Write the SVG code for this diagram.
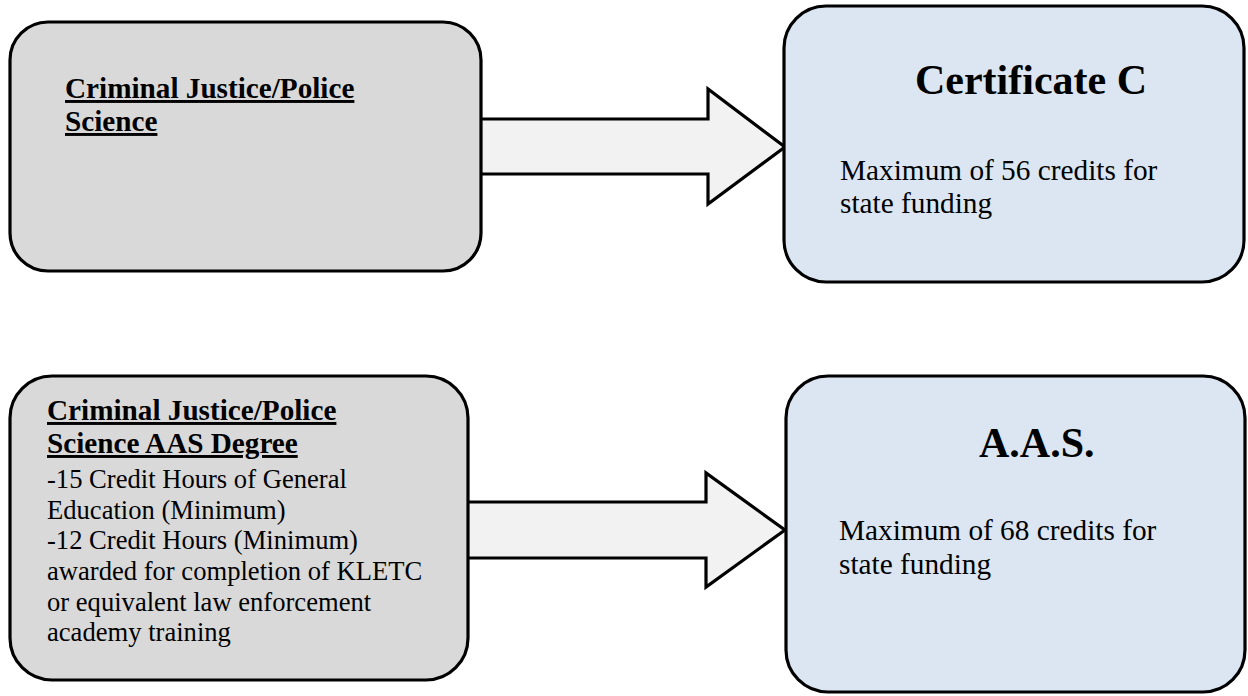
<svg xmlns="http://www.w3.org/2000/svg" width="1248" height="696" viewBox="0 0 1248 696">
<style>
.box{stroke:#000;stroke-width:3.2}
.grey{fill:#D9D9D9}
.blue{fill:#DCE6F2}
.arrow{fill:#F2F2F2;stroke:#000;stroke-width:3.2;stroke-linejoin:miter}
text{font-family:"Liberation Serif","Times New Roman",serif;fill:#000}
.t{font-weight:bold;font-size:29.2px;text-decoration:underline}
.big{font-weight:bold;font-size:42px}
.b29{font-size:29.3px}
.b27{font-size:26.6px}
</style>
<rect width="1248" height="696" fill="#fff"/>
<g id="connectors">
<polygon class="arrow" points="476,119 708,119 708,89 785,147 708,204 708,174 476,174"/>
<polygon class="arrow" points="464,502 706,502 706,473 785,530 706,587 706,558 464,558"/>
</g>
<g id="node-cj">
<rect class="box grey" x="10" y="22" width="471" height="249" rx="38" ry="38"/>
<text class="t" x="65" y="98">Criminal Justice/Police</text>
<text class="t" x="65" y="131">Science</text>
</g>
<g id="node-certc">
<rect class="box blue" x="784" y="6" width="460" height="276" rx="42" ry="42"/>
<text class="big" x="915" y="94">Certificate C</text>
<text class="b29" x="840" y="180">Maximum of 56 credits for</text>
<text class="b29" x="840" y="213">state funding</text>
</g>
<g id="node-cjaas">
<rect class="box grey" x="10" y="376" width="458" height="304" rx="42" ry="42"/>
<text class="t" x="47" y="420">Criminal Justice/Police</text>
<text class="t" x="47" y="453">Science AAS Degree</text>
<text class="b27" x="47" y="488">-15 Credit Hours of General</text>
<text class="b27" x="47" y="518.5">Education (Minimum)</text>
<text class="b27" x="47" y="549">-12 Credit Hours (Minimum)</text>
<text class="b27" x="47" y="580">awarded for completion of KLETC</text>
<text class="b27" x="47" y="610.5">or equivalent law enforcement</text>
<text class="b27" x="47" y="641">academy training</text>
</g>
<g id="node-aas">
<rect class="box blue" x="786" y="376" width="459" height="316" rx="42" ry="42"/>
<text class="big" x="979" y="457">A.A.S.</text>
<text class="b29" x="839" y="540">Maximum of 68 credits for</text>
<text class="b29" x="839" y="574">state funding</text>
</g>
</svg>
